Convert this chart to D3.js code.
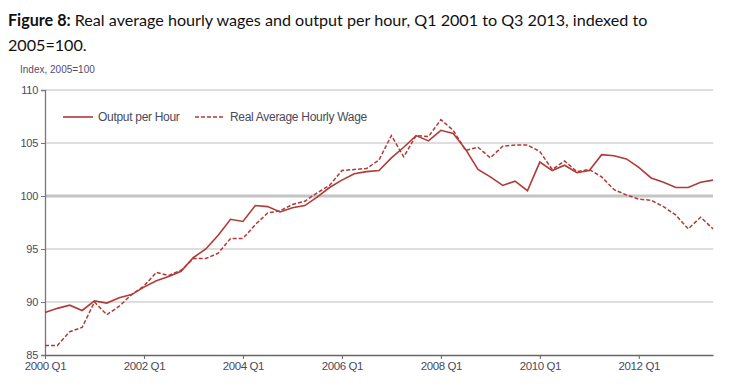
<!DOCTYPE html>
<html>
<head>
<meta charset="utf-8">
<script src="https://cdn.jsdelivr.net/npm/d3@7"></script>
<style>
  body { margin: 0; background: #fff; }
  svg { display: block; }
</style>
</head>
<body>
<div id="chart"></div>
<script>
// quarters 2000 Q1 .. 2013 Q3
var years = [2000, 2001, 2002, 2003, 2004, 2005, 2006, 2007, 2008, 2009, 2010, 2011, 2012, 2013];
var quarters = [];
years.forEach(function(y) {
  for (var q = 1; q <= 4; q++) {
    if (y == 2013 && q > 3) break;
    quarters.push(y + " Q" + q);
  }
});

var outputPerHour = [89.0, 89.4, 89.7, 89.2, 90.1, 89.9, 90.4, 90.7, 91.4, 92.0, 92.4, 92.9, 94.2, 95.0, 96.3, 97.8,
  97.6, 99.1, 99.0, 98.5, 98.9, 99.1, 99.9, 100.8, 101.5, 102.1, 102.3, 102.4, 103.6, 104.6, 105.7, 105.2,
  106.2, 105.9, 104.4, 102.5, 101.8, 101.0, 101.4, 100.5, 103.2, 102.4, 102.9, 102.2, 102.4, 103.9, 103.8, 103.5,
  102.7, 101.7, 101.3, 100.8, 100.8, 101.3, 101.5];

var realWage = [85.9, 85.9, 87.2, 87.6, 90.0, 88.8, 89.6, 90.7, 91.5, 92.8, 92.5, 93.0, 94.1, 94.1, 94.6, 96.0,
  96.0, 97.3, 98.4, 98.6, 99.2, 99.5, 100.3, 101.0, 102.4, 102.5, 102.6, 103.4, 105.7, 103.7, 105.7, 105.6,
  107.2, 106.2, 104.3, 104.6, 103.6, 104.7, 104.8, 104.8, 104.2, 102.5, 103.3, 102.3, 102.5, 101.8, 100.6, 100.1,
  99.7, 99.6, 99.0, 98.2, 96.9, 98.0, 96.9];

var yTicks = [85, 90, 95, 100, 105, 110];
var xTickLabels = ["2000 Q1", "2002 Q1", "2004 Q1", "2006 Q1", "2008 Q1", "2010 Q1", "2012 Q1"];
var seriesNames = ["Output per Hour", "Real Average Hourly Wage"];

var w = 736, h = 391;
var lineColor = "#b23a37";
var labelColor = "#4a4a5a";

var svg = d3.select("#chart").append("svg")
  .attr("width", w)
  .attr("height", h);

//title (sized so line 1 spans about 640px like the original)
var title = svg.append("text")
  .attr("x", 8)
  .attr("y", 26)
  .style("font-family", "Lato")
  .style("font-size", "15px")
  .style("fill", "#111");
title.append("tspan").style("font-weight", "bold").text("Figure 8:");
title.append("tspan").text(" Real average hourly wages and output per hour, Q1 2001 to Q3 2013, indexed to");
var titleSize = 15 * 640 / title.node().getComputedTextLength();
title.style("font-size", titleSize + "px");

svg.append("text")
  .attr("x", 8)
  .attr("y", 51)
  .style("font-family", "Lato")
  .style("font-size", titleSize + "px")
  .style("fill", "#111")
  .text("2005=100.");

svg.append("text")
  .attr("x", 20)
  .attr("y", 73)
  .style("font-family", "Liberation Sans")
  .style("font-size", "10px")
  .style("fill", "#5a4a6a")
  .text("Index, 2005=100");

//scales
var x = d3.scaleLinear()
  .domain([0, quarters.length - 1])
  .range([45, 713]);

var y = d3.scaleLinear()
  .domain([85, 110])
  .range([355, 90]);

//gridlines
svg.selectAll(".grid")
  .data(yTicks.filter(function(d) { return d != 85; }))
  .enter()
  .append("line")
  .attr("x1", 46)
  .attr("x2", 713)
  .attr("y1", function(d) { return y(d); })
  .attr("y2", function(d) { return y(d); })
  .style("stroke", function(d) { return d == 100 ? "#c4c4c4" : "#dedede"; })
  .style("stroke-width", function(d) { return d == 100 ? 3 : 2; });

//y axis
var yAxis = svg.append("g")
  .attr("transform", "translate(45,0)")
  .call(d3.axisLeft(y).tickValues(yTicks).tickSize(4).tickFormat(d3.format("d")));
yAxis.select(".domain").style("stroke", "#777").style("stroke-width", 1.3);
yAxis.selectAll(".tick line").style("stroke", "#777");
yAxis.selectAll("text")
  .attr("x", -7)
  .style("font-family", "Liberation Sans")
  .style("font-size", "11px")
  .style("letter-spacing", "-0.3px")
  .style("fill", labelColor);

//x axis
var xTickIdx = xTickLabels.map(function(l) { return quarters.indexOf(l); });
var xAxis = svg.append("g")
  .attr("transform", "translate(0,355)")
  .call(d3.axisBottom(x).tickValues(xTickIdx).tickSize(4).tickSizeOuter(0)
    .tickFormat(function(d) { return quarters[d]; }));
xAxis.select(".domain").style("stroke", "#666").style("stroke-width", 1.3);
xAxis.selectAll(".tick line").style("stroke", "#666");
xAxis.selectAll("text")
  .attr("y", 7)
  .style("font-family", "Liberation Sans")
  .style("font-size", "11.5px")
  .style("letter-spacing", "-0.4px")
  .style("fill", labelColor);

//lines
var line = d3.line()
  .x(function(d, i) { return x(i); })
  .y(function(d) { return y(d); });

svg.append("path")
  .datum(realWage)
  .attr("d", line)
  .style("fill", "none")
  .style("stroke", lineColor)
  .style("stroke-width", 1.5)
  .style("stroke-dasharray", "4,2");

svg.append("path")
  .datum(outputPerHour)
  .attr("d", line)
  .style("fill", "none")
  .style("stroke", lineColor)
  .style("stroke-width", 1.6);

//legend
var legend = svg.append("g").attr("transform", "translate(63,117)");
var legendX = [0, 132];
seriesNames.forEach(function(name, i) {
  var g = legend.append("g").attr("transform", "translate(" + legendX[i] + ",0)");
  g.append("line")
    .attr("x1", 0).attr("x2", 30)
    .attr("y1", 0).attr("y2", 0)
    .style("stroke", lineColor)
    .style("stroke-width", 1.6)
    .style("stroke-dasharray", i == 1 ? "4,2" : null);
  g.append("text")
    .attr("x", 35)
    .attr("y", 4)
    .style("font-family", "Liberation Sans")
    .style("font-size", "12px")
    .style("letter-spacing", "-0.3px")
    .style("fill", labelColor)
    .text(name);
});
</script>
</body>
</html>
